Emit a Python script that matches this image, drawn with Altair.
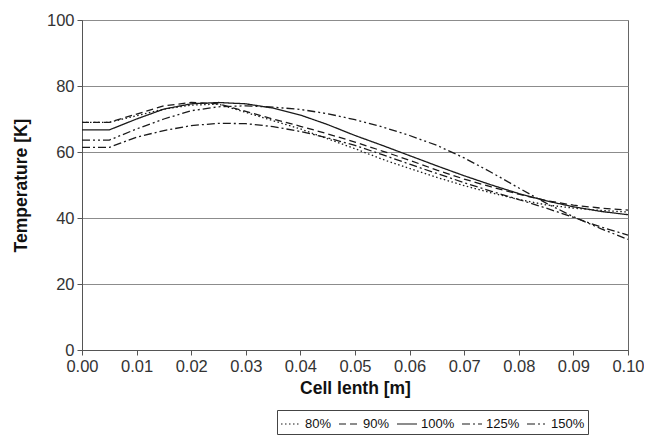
import altair as alt
import pandas as pd

# Cell length positions [m]
x_vals = [0.000, 0.005, 0.010, 0.015, 0.020, 0.025, 0.030, 0.035, 0.040, 0.045,
          0.050, 0.055, 0.060, 0.065, 0.070, 0.075, 0.080, 0.085, 0.090, 0.095, 0.100]

# Temperature [K] per series
t80 = [69.0, 69.0, 71.0, 73.0, 74.2, 74.5, 72.0, 69.5, 67.0, 64.0,
       61.0, 57.8, 55.0, 52.3, 49.8, 47.6, 45.6, 44.0, 43.0, 42.3, 41.8]
t90 = [69.0, 69.0, 71.5, 74.0, 75.0, 74.6, 72.3, 70.0, 67.8, 65.5,
       63.0, 60.3, 57.5, 54.5, 51.8, 49.4, 47.2, 45.3, 43.9, 43.0, 42.4]
t100 = [66.7, 66.7, 70.0, 73.0, 74.6, 75.0, 74.6, 73.3, 71.2, 68.3,
        65.0, 62.0, 58.9, 55.8, 52.8, 50.0, 47.4, 45.2, 43.4, 42.0, 41.0]
t125 = [61.4, 61.4, 64.5, 66.5, 68.0, 68.7, 68.6, 67.7, 66.2, 64.3,
        62.0, 59.2, 56.3, 53.5, 50.7, 48.1, 45.6, 43.0, 40.2, 37.3, 34.8]
t150 = [63.6, 63.6, 67.0, 70.0, 72.5, 73.7, 74.0, 73.6, 72.9, 71.6,
        69.8, 67.6, 65.0, 62.0, 58.2, 53.8, 49.1, 44.5, 40.4, 36.8, 33.5]

series_names = ["80%", "90%", "100%", "125%", "150%"]
series_vals = [t80, t90, t100, t125, t150]
dashes = [[1.5, 2.5], [7, 4], [1, 0], [8, 3, 2, 3], [8, 3, 2, 3, 2, 3]]

y_ticks = [0, 20, 40, 60, 80, 100]
x_ticks = [0.00, 0.01, 0.02, 0.03, 0.04, 0.05, 0.06, 0.07, 0.08, 0.09, 0.10]

rows = []
for name, vals in zip(series_names, series_vals):
    for xv, tv in zip(x_vals, vals):
        rows.append({"x": xv, "T": tv, "series": name})
df = pd.DataFrame(rows)

FONT = "Liberation Sans"

chart = alt.Chart(df).mark_line(color="#1a1a1a", strokeWidth=1.3).encode(
    x=alt.X("x:Q",
            scale=alt.Scale(domain=[0, 0.1], nice=False, zero=False),
            axis=alt.Axis(title="Cell lenth [m]", values=x_ticks, format=".2f",
                          grid=False, tickSize=5, labelPadding=3,
                          labelFontSize=16.5, labelColor="#333333", labelFont=FONT,
                          titleFont=FONT, titleFontSize=17.5, titleFontWeight="bold",
                          titleColor="#111111", titleY=38, titleBaseline="middle",
                          domainColor="#555555", tickColor="#555555",
                          labelFlush=False)),
    y=alt.Y("T:Q",
            scale=alt.Scale(domain=[0, 100], nice=False),
            axis=alt.Axis(title="Temperature [K]", values=y_ticks, format="d",
                          grid=True, gridColor="#8c8c8c", gridWidth=1,
                          tickSize=5, labelPadding=3,
                          labelFontSize=16.5, labelColor="#333333", labelFont=FONT,
                          titleFont=FONT, titleFontSize=17.5, titleFontWeight="bold",
                          titleColor="#111111", titleX=-61, titleY=165,
                          titleAngle=-90, titleAlign="center", titleBaseline="middle",
                          domainColor="#555555", tickColor="#555555")),
    strokeDash=alt.StrokeDash("series:N",
                              scale=alt.Scale(domain=series_names, range=dashes),
                              legend=alt.Legend(title=None, orient="none",
                                                legendX=195, legendY=390,
                                                direction="horizontal",
                                                symbolType="stroke",
                                                symbolSize=400,
                                                symbolStrokeWidth=1.2,
                                                symbolStrokeColor="#1a1a1a",
                                                labelFont=FONT, labelFontSize=13,
                                                labelColor="#111111",
                                                labelOffset=3,
                                                columnPadding=4,
                                                padding=3,
                                                strokeColor="#444444")),
).properties(
    width=546,
    height=330,
    autosize=alt.AutoSizeParams(type="none"),
    padding={"left": 74, "top": 12, "right": 16, "bottom": 85},
).configure_view(
    stroke="#666666", strokeWidth=1
)

chart.save("out.html", embed_options={"renderer": "svg", "actions": False})
